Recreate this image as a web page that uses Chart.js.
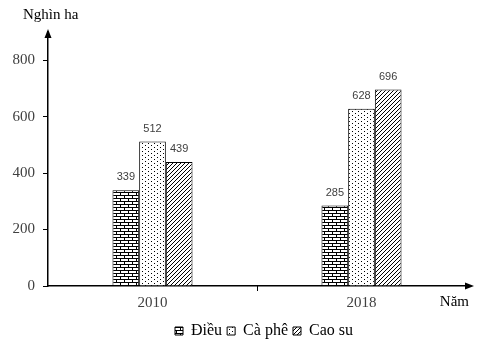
<!DOCTYPE html>
<html>
<head>
<meta charset="utf-8">
<script src="https://cdn.jsdelivr.net/npm/chart.js@4.4.0/dist/chart.umd.min.js"></script>
<style>
  html, body { margin: 0; padding: 0; background: #fff; }
  #wrap { width: 481px; height: 346px; position: relative; }
</style>
</head>
<body>
<div id="wrap"><canvas id="chart"></canvas></div>
<script>
// data
const years = ['2010', '2018'];
const dieu = [339, 285];
const caphe = [512, 628];
const caosu = [439, 696];
const series_names = ['Điều', 'Cà phê', 'Cao su'];
const y_ticks = [0, 200, 400, 600, 800];

Chart.defaults.font.family = '"Liberation Serif", serif';

const make_pattern = (w, h, draw) => {
    const c = document.createElement('canvas');
    c.width = w;
    c.height = h;
    const ctx = c.getContext('2d');
    ctx.fillStyle = '#fff';
    ctx.fillRect(0, 0, w, h);
    ctx.fillStyle = '#000';
    draw(ctx);
    return document.getElementById('chart').getContext('2d').createPattern(c, 'repeat');
};

// brick pattern
const brick = make_pattern(8, 6, (ctx) => {
    ctx.fillRect(0, 0, 8, 1);
    ctx.fillRect(0, 3, 8, 1);
    ctx.fillRect(0, 0, 1, 3);
    ctx.fillRect(4, 3, 1, 3);
});
// dots
const dots = make_pattern(6, 4, (ctx) => {
    ctx.fillRect(1, 1, 1, 1);
    ctx.fillRect(4, 3, 1, 1);
});
// diagonal hatch
const hatch = make_pattern(4, 4, (ctx) => {
    for (let i = 0; i < 4; i++) ctx.fillRect(i, 3 - i, 1, 1);
});

const axis_extras = {
    id: 'axis_extras',
    afterLayout(chart) {
        // nudge legend to where it sits in the picture
        const lg = chart.legend;
        lg.left += 7; lg.right += 7;
        lg.top += 4; lg.bottom += 4;
    },
    afterDraw(chart) {
        const ctx = chart.ctx;
        const a = chart.chartArea;
        const yx = chart.scales.y.left + chart.scales.y.width;
        ctx.save();
        ctx.fillStyle = '#000';
        ctx.strokeStyle = '#000';
        // y arrow
        ctx.beginPath();
        ctx.moveTo(yx, a.top - 3);
        ctx.lineTo(yx - 3.5, a.top + 6);
        ctx.lineTo(yx + 3.5, a.top + 6);
        ctx.closePath();
        ctx.fill();
        // x axis extension + arrow
        ctx.lineWidth = 1.5;
        ctx.beginPath();
        ctx.moveTo(a.right, a.bottom);
        ctx.lineTo(468, a.bottom);
        ctx.stroke();
        ctx.beginPath();
        ctx.moveTo(474, a.bottom);
        ctx.lineTo(465, a.bottom - 3.5);
        ctx.lineTo(465, a.bottom + 3.5);
        ctx.closePath();
        ctx.fill();
        // middle tick between categories
        const mid = (chart.scales.x.getPixelForValue(0) + chart.scales.x.getPixelForValue(1)) / 2;
        ctx.lineWidth = 1;
        ctx.beginPath();
        ctx.moveTo(Math.round(mid) + 0.5, a.bottom);
        ctx.lineTo(Math.round(mid) + 0.5, a.bottom + 5);
        ctx.stroke();
        // axis titles
        ctx.font = '15px "Liberation Serif"';
        ctx.textBaseline = 'alphabetic';
        ctx.textAlign = 'left';
        ctx.fillText('Nghìn ha', 23, 18.5);
        ctx.textAlign = 'right';
        ctx.fillText('Năm', 469, 306);
        // value labels
        ctx.font = '11px "Liberation Sans"';
        ctx.fillStyle = '#404040';
        ctx.textAlign = 'center';
        ctx.textBaseline = 'middle';
        chart.data.datasets.forEach((ds, i) => {
            chart.getDatasetMeta(i).data.forEach((bar, j) => {
                ctx.fillText(ds.data[j], bar.x, bar.y - 13);
            });
        });
        ctx.restore();
    }
};

new Chart(document.getElementById('chart'), {
    type: 'bar',
    data: {
        labels: years,
        datasets: [
            { label: series_names[0], data: dieu, backgroundColor: brick },
            { label: series_names[1], data: caphe, backgroundColor: dots },
            { label: series_names[2], data: caosu, backgroundColor: hatch }
        ].map(d => Object.assign(d, {
            borderColor: '#000',
            borderWidth: 1,
            barPercentage: 1,
            categoryPercentage: 0.383
        }))
    },
    options: {
        responsive: true,
        maintainAspectRatio: false,
        animation: false,
        layout: { padding: { top: 32, right: 15, left: 0, bottom: 1 } },
        plugins: {
            tooltip: { enabled: false },
            legend: {
                position: 'bottom',
                fullSize: false,
                labels: {
                    boxWidth: 8,
                    boxHeight: 8,
                    padding: 5,
                    color: '#000',
                    font: { family: '"Liberation Serif", serif', size: 16 }
                }
            }
        },
        scales: {
            x: {
                grid: { display: false, drawTicks: false, tickLength: 0 },
                border: { display: true, color: '#000', width: 1.5 },
                ticks: {
                    padding: 8,
                    color: '#404040',
                    font: { size: 15 }
                },
                afterFit: (scale) => { scale.height = 28; }
            },
            y: {
                min: 0,
                max: 900,
                afterBuildTicks: (scale) => {
                    scale.ticks = y_ticks.map(v => ({ value: v }));
                },
                grid: {
                    drawOnChartArea: false,
                    drawTicks: true,
                    tickLength: 5,
                    color: '#000'
                },
                border: { display: true, color: '#000', width: 1.5 },
                ticks: {
                    padding: 8,
                    color: '#404040',
                    font: { size: 15 }
                },
                afterFit: (scale) => { scale.width = 48; }
            }
        }
    },
    plugins: [axis_extras]
});
</script>
</body>
</html>
